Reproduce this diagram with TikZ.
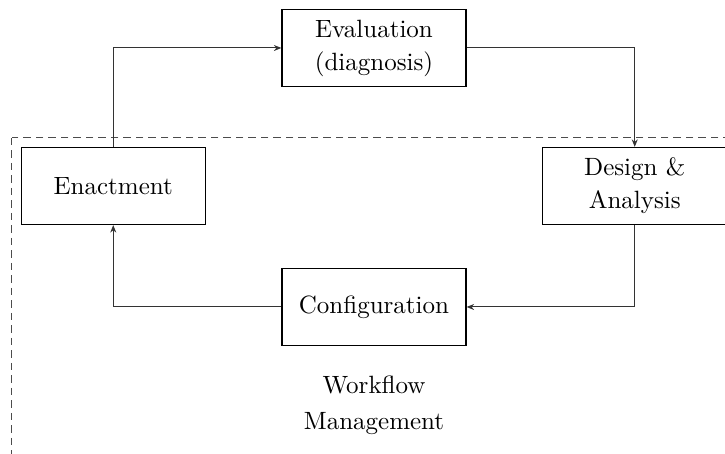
\documentclass[tikz,border=0pt]{standalone}
\usetikzlibrary{arrows.meta,positioning}
\tikzset{block/.style={draw,rectangle,align=center,minimum width=73.6pt,minimum height=30.8pt,inner sep=2pt,line width=0.5pt,font=\linespread{1.1}\selectfont},
         frame/.style={draw=black!70,dash pattern=on 3pt off 2pt,line width=0.4pt},
         >={Stealth[length=3pt,width=2.4pt]}}

\begin{document}
\begin{tikzpicture}[node distance=55.2pt and 104.3pt, on grid, line width=0.4pt]
                   \clip (-149.6pt,19.2pt) rectangle (140.4pt,-162.4pt);
                   \draw[frame] (-144.8pt,-36pt) rectangle (160pt,-180pt);
                   \node[block] (eval) {Evaluation\\(diagnosis)};
                   \node[block] (enact) [below left=of eval] {Enactment};
                   \node[block] (design) [below right=of eval] {Design \&\\Analysis};
                   \node[block] (config) [below=103.6pt of eval] {Configuration};
                   \node[align=center,font=\linespread{1.2}\selectfont] (wfm) [below=39.2pt of config] {Workflow\\Management};
                    \draw[->,black!80] (enact) |- (eval);
                    \draw[->,black!80] (eval) -| (design);
                    \draw[->,black!80] (design) |- (config);
                    \draw[->,black!80] (config) -| (enact);
                \end{tikzpicture}
\end{document}
